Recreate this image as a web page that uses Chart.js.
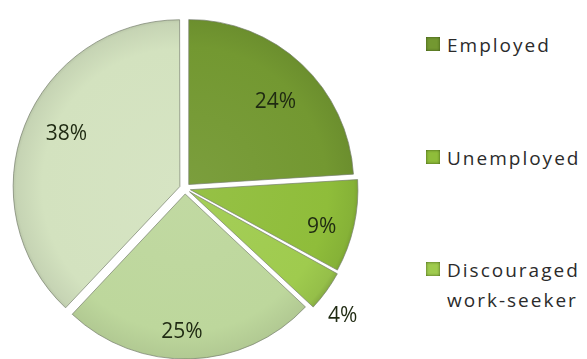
<!DOCTYPE html>
<html>
<head>
<meta charset="utf-8">
<script src="https://cdn.jsdelivr.net/npm/chart.js@4/dist/chart.umd.min.js"></script>
<style>
  html, body { margin: 0; padding: 0; background: #fff; }
  body { width: 587px; height: 359px; position: relative; overflow: hidden; font-family: "Open Sans", sans-serif; }
  #pieBox { position: absolute; left: 0; top: 0; width: 370px; height: 359px; }
  #legend { position: absolute; left: 426px; top: 0; width: 161px; }
  .item { position: absolute; left: 0; display: flex; align-items: flex-start; }
  .swatch { width: 14px; height: 14px; margin-top: 7px; margin-right: 7px; flex: none;
            box-shadow: inset 0 0 3px rgba(40, 60, 10, 0.8); }
  .text { font-size: 19px; line-height: 30px; color: #2b2b2b; letter-spacing: 2px; width: 150px; }
</style>
</head>
<body>
<div id="pieBox"><canvas id="laborChart"></canvas></div>
<div id="legend"></div>
<script>
document.addEventListener("DOMContentLoaded", function () {
  const categories = [
    "Employed",
    "Unemployed",
    "Discouraged work-seeker",
    "Not economically active",
    "Other",
  ];
  const shares = [24, 9, 4, 25, 38];
  const sliceColors = ["#739831", "#8fbd3a", "#9fcb4e", "#bdd79c", "#d3e2bf"];
  const legendShown = 3; // only the first three groups get a legend entry
  const legendTops = [30, 143, 255];
  // how far out each percentage sits, as a share of the radius
  const labelDepth = [0.76, 0.86, 1.23, 0.87, 0.79];
  const labelTurn = 3 * Math.PI / 180; // labels sit a little clockwise of the slice middle

  // mix a hex colour towards black (t > 0) or white (t < 0)
  function shade(hex, t) {
    const n = parseInt(hex.slice(1), 16);
    const target = t > 0 ? 0 : 255;
    const a = Math.abs(t);
    const ch = [n >> 16, (n >> 8) & 255, n & 255].map(function (c) {
      return Math.round(c + (target - c) * a);
    });
    return "rgb(" + ch.join(",") + ")";
  }

  // slightly darker rim on every slice
  function sliceFill(context) {
    const chart = context.chart;
    const base = sliceColors[context.dataIndex];
    const area = chart.chartArea;
    if (!area) return base;
    const cx = (area.left + area.right) / 2;
    const cy = (area.top + area.bottom) / 2;
    const g = chart.ctx.createRadialGradient(cx, cy, 0, cx, cy, 172);
    g.addColorStop(0, shade(base, -0.06));
    g.addColorStop(0.8, base);
    g.addColorStop(0.95, shade(base, 0.06));
    g.addColorStop(1, shade(base, 0.2));
    return g;
  }

  // percentage labels: inside the big slices, just outside the thin one
  const pctLabels = {
    id: "pctLabels",
    afterDatasetsDraw(chart) {
      const ctx = chart.ctx;
      const arcs = chart.getDatasetMeta(0).data;
      ctx.save();
      ctx.font = "21px 'Open Sans', sans-serif";
      ctx.fillStyle = "#1f2a12";
      ctx.textAlign = "center";
      ctx.textBaseline = "middle";
      arcs.forEach(function (arc, i) {
        const mid = (arc.startAngle + arc.endAngle) / 2 + labelTurn;
        const r = arc.outerRadius * labelDepth[i];
        ctx.fillText(shares[i] + "%", arc.x + Math.cos(mid) * r, arc.y + Math.sin(mid) * r);
      });
      ctx.restore();
    },
  };

  new Chart(document.getElementById("laborChart"), {
    type: "pie",
    data: {
      labels: categories,
      datasets: [
        {
          data: shares,
          backgroundColor: sliceFill,
          borderColor: "rgba(120, 128, 110, 0.7)",
          borderWidth: 1,
          offset: 22,
        },
      ],
    },
    options: {
      responsive: true,
      maintainAspectRatio: false,
      animation: false,
      radius: 165,
      layout: { padding: { top: 18 } },
      plugins: {
        legend: { display: false },
        tooltip: { enabled: false },
      },
    },
    plugins: [pctLabels],
  });

  const legend = document.getElementById("legend");
  categories.slice(0, legendShown).forEach(function (name, i) {
    const item = document.createElement("div");
    item.className = "item";
    item.style.top = legendTops[i] + "px";
    const sw = document.createElement("span");
    sw.className = "swatch";
    sw.style.background = sliceColors[i];
    const txt = document.createElement("span");
    txt.className = "text";
    txt.textContent = name;
    item.appendChild(sw);
    item.appendChild(txt);
    legend.appendChild(item);
  });
});
</script>
</body>
</html>
